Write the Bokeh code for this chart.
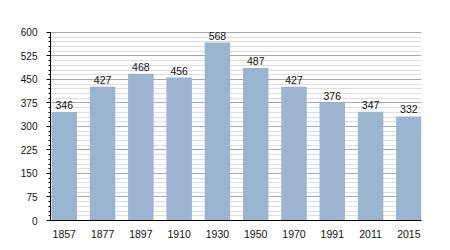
from bokeh.plotting import figure
from bokeh.models import FixedTicker, Range1d, ColumnDataSource, LabelSet
from bokeh.core.properties import value
from bokeh.embed import file_html
from bokeh.resources import INLINE

years = ["1857", "1877", "1897", "1910", "1930", "1950", "1970", "1991", "2011", "2015"]
population = [346, 427, 468, 456, 568, 487, 427, 376, 347, 332]
y_ticks = [0, 75, 150, 225, 300, 375, 450, 525, 600]
y_minor = list(range(0, 601, 15))

idx = list(range(len(years)))
src = ColumnDataSource(dict(x=idx, top=population, lab=[str(v) for v in population]))

p = figure(width=450, height=250, output_backend="svg", toolbar_location=None,
           x_range=Range1d(-0.36, 9.33), y_range=Range1d(0, 628.7),
           min_border_left=50, min_border_right=29, min_border_top=23, min_border_bottom=30)
p.outline_line_color = None
p.background_fill_color = "white"

p.vbar(x="x", top="top", width=0.666, source=src, fill_color="#9bb4cf", line_color=None)

labels = LabelSet(x="x", y="top", text="lab", source=src, text_align="center",
                  text_baseline="bottom", y_offset=3, text_font=value("Liberation Sans"),
                  text_font_size=value("10.5px"), text_color="#111111")
p.add_layout(labels)

p.yaxis.ticker = FixedTicker(ticks=y_ticks, minor_ticks=y_minor)
p.yaxis.bounds = (0, 600)
p.xaxis.ticker = FixedTicker(ticks=idx)
p.xaxis.major_label_overrides = {i: y for i, y in zip(idx, years)}

p.xgrid.grid_line_color = None
p.ygrid.grid_line_color = "#a8a8a8"
p.ygrid.grid_line_width = 1
p.ygrid.minor_grid_line_color = "#dedede"
p.ygrid.level = "underlay"

for ax in (p.xaxis, p.yaxis):
    ax.axis_line_color = "black"
    ax.major_label_text_font = "Liberation Sans"
    ax.major_label_text_color = "#111111"

p.xaxis.major_label_text_font_size = "10.5px"
p.yaxis.major_label_text_font_size = "10px"

p.yaxis.major_tick_line_color = "black"
p.yaxis.major_tick_out = 4
p.yaxis.major_tick_in = 0
p.yaxis.minor_tick_line_color = "black"
p.yaxis.minor_tick_out = 2
p.yaxis.minor_tick_in = 0
p.yaxis.major_label_standoff = 9

p.xaxis.major_tick_line_color = None
p.xaxis.minor_tick_line_color = None
p.xaxis.major_label_standoff = 3

open("out.html", "w").write(file_html(p, INLINE))
